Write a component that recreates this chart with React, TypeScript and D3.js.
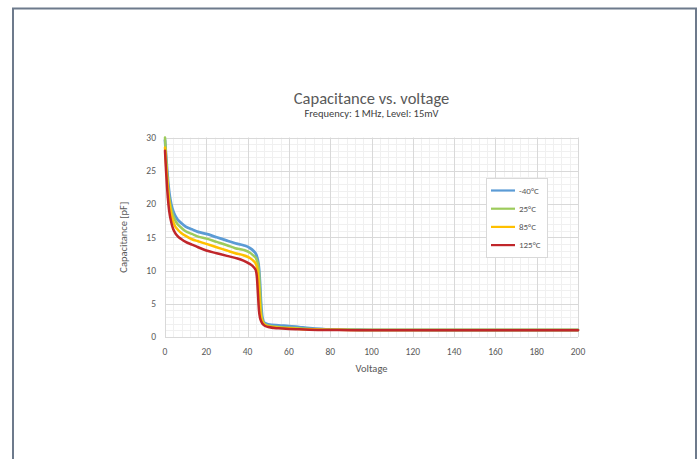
import React from "react";
import * as d3 from "d3";

const voltage = [0, 0.5, 1, 1.5, 2, 3, 4, 5, 6, 8, 10, 13, 16, 20, 25, 30, 34, 38, 41, 43, 44, 44.5, 45, 45.5, 46, 46.5, 47, 47.5, 48, 50, 55, 60, 65, 70, 80, 90, 100, 120, 140, 160, 180, 200];

const capM40 = [29.6, 27.4, 25.3, 23.4, 21.9, 20.0, 18.9, 18.2, 17.7, 17.1, 16.6, 16.2, 15.8, 15.5, 15.0, 14.5, 14.1, 13.8, 13.4, 12.9, 12.5, 12.1, 11.5, 10.4, 8.2, 5.2, 3.3, 2.5, 2.15, 1.9, 1.75, 1.65, 1.5, 1.35, 1.15, 1.1, 1.08, 1.06, 1.05, 1.05, 1.05, 1.05];
const cap25 = [30, 27, 24.5, 22.5, 21, 19.3, 18.2, 17.5, 17.0, 16.4, 15.9, 15.5, 15.1, 14.8, 14.3, 13.8, 13.35, 13.1, 12.7, 12.2, 11.9, 11.5, 11.0, 9.8, 7.0, 4.0, 2.8, 2.3, 2.0, 1.7, 1.5, 1.4, 1.3, 1.2, 1.1, 1.08, 1.06, 1.05, 1.05, 1.05, 1.05, 1.05];
const cap85 = [28.5, 26, 24, 22, 20.5, 18.5, 17.3, 16.6, 16.2, 15.6, 15.2, 14.7, 14.4, 14.0, 13.5, 13.0, 12.6, 12.3, 11.9, 11.4, 11.0, 10.5, 9.5, 7.5, 4.5, 3.0, 2.4, 2.1, 1.9, 1.6, 1.4, 1.3, 1.2, 1.15, 1.1, 1.07, 1.05, 1.05, 1.05, 1.05, 1.05, 1.05];
const cap125 = [28.0, 25.0, 22.5, 20.5, 19.0, 17.3, 16.2, 15.6, 15.2, 14.7, 14.3, 13.9, 13.5, 13.0, 12.6, 12.2, 11.9, 11.5, 11.0, 10.5, 10.0, 9.0, 6.5, 4.0, 2.9, 2.4, 2.1, 1.9, 1.75, 1.5, 1.3, 1.2, 1.15, 1.1, 1.05, 1.03, 1.02, 1.02, 1.02, 1.02, 1.02, 1.02];

const seriesNames = ["-40°C", "25°C", "85°C", "125°C"];
const seriesColors = ["#5b9bd5", "#9dcb5c", "#ffc000", "#c0262a"];
const seriesValues = [capM40, cap25, cap85, cap125];

const xTicks = [0, 20, 40, 60, 80, 100, 120, 140, 160, 180, 200];
const yTicks = [0, 5, 10, 15, 20, 25, 30];

const FONT = "Carlito, Calibri, Lato, 'Open Sans', sans-serif";

export default function App() {
  const x = d3.scaleLinear().domain([0, 200]).range([165, 578]);
  const y = d3.scaleLinear().domain([0, 30]).range([337, 137.5]);

  const minorX = d3.range(0, 201, 4).filter((v) => v % 20 !== 0);
  const minorY = d3.range(0, 31, 1).filter((v) => v % 5 !== 0);

  const line = d3
    .line<number>()
    .x((_, i) => x(voltage[i]))
    .y((d) => y(d))
    .curve(d3.curveMonotoneX);

  const px = (v: number) => Math.round(v) + 0.5;

  return (
    <svg
      width={699}
      height={459}
      style={{ position: "absolute", left: 0, top: 0, background: "#fff" }}
      fontFamily={FONT}
    >
      <rect x={0} y={0} width={699} height={459} fill="#fff" />
      <path d="M13,470 L13,8.5 L696,8.5 L696,470" fill="none" stroke="#6d7a8c" strokeWidth={2} />

      {/* minor grid */}
      {minorX.map((v) => (
        <line key={"mx" + v} x1={px(x(v))} x2={px(x(v))} y1={y(30)} y2={y(0)} stroke="#f0f0f0" />
      ))}
      {minorY.map((v) => (
        <line key={"my" + v} x1={x(0)} x2={x(200)} y1={px(y(v))} y2={px(y(v))} stroke="#f0f0f0" />
      ))}
      {/* major grid */}
      {xTicks.map((v) => (
        <line key={"gx" + v} x1={px(x(v))} x2={px(x(v))} y1={y(30)} y2={y(0)} stroke="#d9d9d9" />
      ))}
      {yTicks.map((v) => (
        <line key={"gy" + v} x1={x(0)} x2={x(200)} y1={px(y(v))} y2={px(y(v))} stroke="#d9d9d9" />
      ))}

      {/* series */}
      {seriesValues.map((vals, i) => (
        <path
          key={seriesNames[i]}
          d={line(vals) || ""}
          fill="none"
          stroke={seriesColors[i]}
          strokeWidth={i === 0 ? 2.8 : 2.5}
          strokeLinejoin="round"
          strokeLinecap="round"
        />
      ))}

      {/* tick labels */}
      {xTicks.map((v) => (
        <text key={"tx" + v} x={x(v)} y={355} textAnchor="middle" fontSize={9.5} fill="#595959">
          {v}
        </text>
      ))}
      {yTicks.map((v) => (
        <text key={"ty" + v} x={156} y={y(v) + 3.3} textAnchor="end" fontSize={9.5} fill="#595959">
          {v}
        </text>
      ))}

      {/* axis titles */}
      <text x={371.5} y={372} textAnchor="middle" fontSize={10.5} fill="#595959">
        Voltage
      </text>
      <text
        transform={`translate(127,${(y(0) + y(30)) / 2}) rotate(-90)`}
        textAnchor="middle"
        fontSize={10.5}
        fill="#595959"
      >
        Capacitance [pF]
      </text>

      {/* title */}
      <text x={371.5} y={104} textAnchor="middle" fontSize={16.5} fill="#595959">
        Capacitance vs. voltage
      </text>
      <text x={371.5} y={117} textAnchor="middle" fontSize={10.5} fill="#404040">
        Frequency: 1 MHz, Level: 15mV
      </text>

      {/* legend */}
      <rect x={486.5} y={178.5} width={61} height={79} fill="#fff" stroke="#d9d9d9" />
      {seriesNames.map((n, i) => {
        const ly = 190.5 + i * 18.2;
        return (
          <g key={"lg" + n}>
            <line x1={491} x2={515} y1={ly} y2={ly} stroke={seriesColors[i]} strokeWidth={2.2} />
            <text x={519} y={ly + 3} fontSize={9} fill="#595959">
              {n}
            </text>
          </g>
        );
      })}
    </svg>
  );
}
